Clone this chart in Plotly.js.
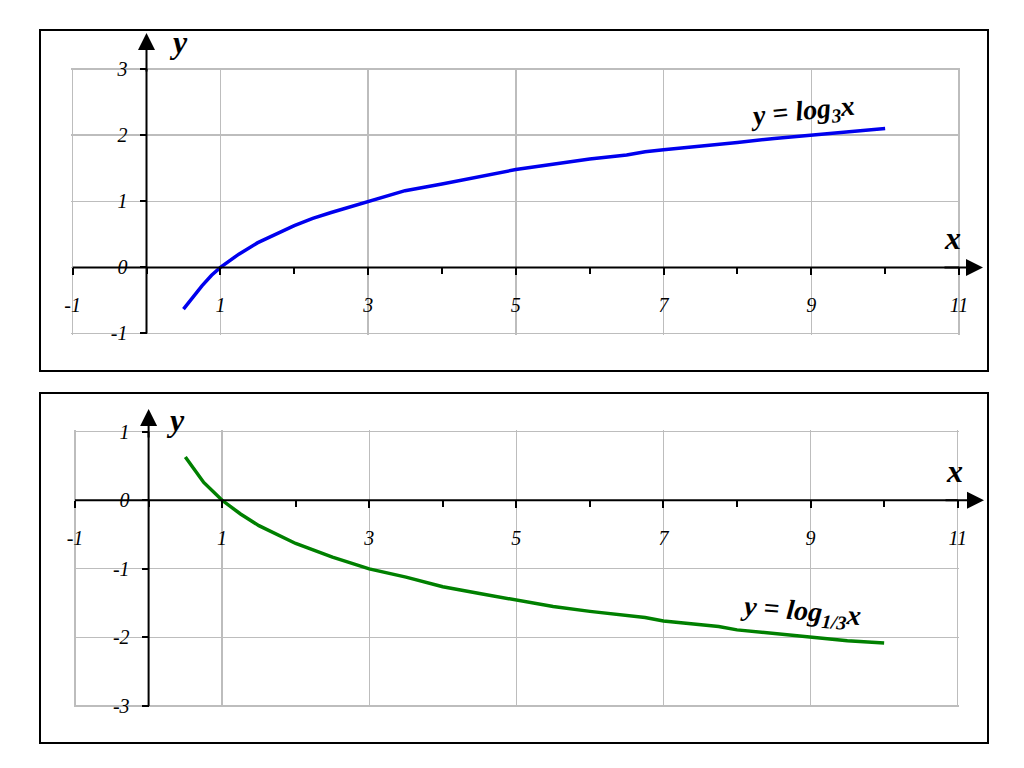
<!DOCTYPE html>
<html>
<head>
<meta charset="utf-8">
<script src="https://cdn.plot.ly/plotly-3.0.1.min.js"></script>
<style>html,body{margin:0;padding:0;background:#fff;}#chart{width:1024px;height:768px;}</style>
</head>
<body>
<div id="chart"></div>
<script>
// ---- data ----
var topX = [0.5, 0.75, 0.88, 1, 1.25, 1.5, 2, 2.25, 2.5, 3, 3.5, 4, 4.5, 5, 5.5, 6, 6.5, 6.75, 7, 7.5, 8, 8.5, 9, 9.5, 10];
var topY = [-0.63, -0.28, -0.12, 0, 0.2, 0.37, 0.63, 0.74, 0.83, 1.0, 1.16, 1.26, 1.37, 1.48, 1.56, 1.64, 1.70, 1.75, 1.78, 1.83, 1.89, 1.95, 2.0, 2.05, 2.1];
var botX = [0.5, 0.75, 1, 1.25, 1.5, 2, 2.5, 3, 3.5, 4, 4.5, 5, 5.5, 6, 6.5, 6.75, 7, 7.5, 7.75, 8, 8.5, 9, 9.5, 10];
var botY = [0.63, 0.26, 0, -0.2, -0.37, -0.63, -0.83, -1.0, -1.12, -1.26, -1.36, -1.46, -1.55, -1.62, -1.68, -1.71, -1.76, -1.81, -1.84, -1.89, -1.94, -2.0, -2.05, -2.08];

var xTickVals = [-1, 1, 3, 5, 7, 9, 11];
var xTickText = ['-1', '1', '3', '5', '7', '9', '11'];
var xMinorVals = [-1, 0, 1, 2, 3, 4, 5, 6, 7, 8, 9, 10, 11];
var yTopVals = [-1, 0, 1, 2, 3];
var yTopText = ['-1', '0', '1', '2', '3'];
var yBotVals = [-3, -2, -1, 0, 1];
var yBotText = ['-3', '-2', '-1', '0', '1'];

var topLabel = '<b><i>y = log<sub>3</sub>x</i></b>';
var botLabel = '<b><i>y = log<sub>1/3</sub>x</i></b>';

// ---- styling ----
var W = 1024, H = 768;
function px(x) { return x / W; }
function py(y) { return (H - y) / H; }
var EPS = 0.02; // small range padding so the edge grid lines are kept (domain compensates)
var tickFont = {family: 'Liberation Serif, Times New Roman, serif', size: 20, color: '#000', style: 'italic'};
var gridCol = '#bdbdbd';

function xAxis(p0, p1, pos) {
  var u = (p1 - p0) / 12;
  return {
    domain: [px(p0 - EPS * u), px(p1 + EPS * u)], range: [-1 - EPS, 11 + EPS], anchor: 'free', position: pos,
    showgrid: true, gridcolor: gridCol, gridwidth: 1.3, zeroline: false,
    showline: false,
    tickmode: 'array', tickvals: xTickVals, ticktext: xTickText,
    ticks: 'outside', ticklen: 7, tickwidth: 2, tickcolor: '#000',
    ticklabelstandoff: 13, tickfont: tickFont,
    minor: {tickmode: 'array', tickvals: xMinorVals, ticks: 'outside', ticklen: 6, tickwidth: 2, tickcolor: '#000', showgrid: false},
    fixedrange: true
  };
}
function yAxis(p0, p1, pos, range, vals, text) {
  // p0 = pixel of range[0] (bottom), p1 = pixel of range[1] (top)
  var u = (p0 - p1) / (range[1] - range[0]);
  return {
    domain: [py(p0 + EPS * u), py(p1 - EPS * u)], range: [range[0] - EPS, range[1] + EPS], anchor: 'free', position: pos,
    showgrid: true, gridcolor: gridCol, gridwidth: 1.3, zeroline: false,
    showline: false,
    tickmode: 'array', tickvals: vals, ticktext: text,
    ticks: 'outside', ticklen: 7, tickwidth: 2, tickcolor: '#000',
    ticklabelstandoff: 8, tickfont: tickFont,
    fixedrange: true
  };
}

var traces = [
  {x: topX, y: topY, xaxis: 'x', yaxis: 'y', mode: 'lines', line: {color: '#0000ee', width: 3.5}, hoverinfo: 'skip'},
  {x: botX, y: botY, xaxis: 'x2', yaxis: 'y2', mode: 'lines', line: {color: '#008000', width: 3.5}, hoverinfo: 'skip'}
];

var bigFont = {family: 'Liberation Serif, Times New Roman, serif', size: 32, color: '#000'};
var eqFont = {family: 'Liberation Serif, Times New Roman, serif', size: 28, color: '#000'};

function arrow(xTip, yTip, ax, ay) {
  return {xref: 'paper', yref: 'paper', x: px(xTip), y: py(yTip), text: '', showarrow: true,
          ax: ax, ay: ay, axref: 'pixel', ayref: 'pixel', arrowhead: 2, arrowsize: 1.7, arrowwidth: 2, arrowcolor: '#000'};
}
function label(x, y, text, font, angle) {
  return {xref: 'paper', yref: 'paper', x: px(x), y: py(y), text: text, showarrow: false, font: font,
          xanchor: 'center', yanchor: 'middle', textangle: angle || 0};
}
// axis lines drawn through the zero point of each panel (paper coords)
function hline(x0, x1, y) { return {type: 'line', xref: 'paper', yref: 'paper', x0: px(x0), x1: px(x1), y0: py(y), y1: py(y), line: {color: '#000', width: 2}}; }
function vline(x, y0, y1) { return {type: 'line', xref: 'paper', yref: 'paper', x0: px(x), x1: px(x), y0: py(y0), y1: py(y1), line: {color: '#000', width: 2}}; }

var layout = {
  width: W, height: H, margin: {l: 0, r: 0, t: 0, b: 0},
  paper_bgcolor: '#fff', plot_bgcolor: 'rgba(0,0,0,0)', showlegend: false,
  xaxis: xAxis(72.7, 959, py(267.4)),
  yaxis: yAxis(333.5, 69, px(146.5), [-1, 3], yTopVals, yTopText),
  xaxis2: xAxis(75, 957.7, py(500.3)),
  yaxis2: yAxis(706, 431.7, px(148.6), [-3, 1], yBotVals, yBotText),
  shapes: [
    {type: 'rect', xref: 'paper', yref: 'paper', x0: px(40), x1: px(988), y0: py(371), y1: py(30), line: {color: '#000', width: 2}},
    {type: 'rect', xref: 'paper', yref: 'paper', x0: px(40), x1: px(988), y0: py(743), y1: py(393), line: {color: '#000', width: 2}},
    hline(72.7, 959, 267.4), vline(146.5, 333.5, 69),
    hline(75, 957.7, 500.3), vline(148.6, 706, 431.7)
  ],
  annotations: [
    arrow(983, 267.4, -40, 0),
    arrow(146.5, 33, 0, 40),
    arrow(984, 500.3, -40, 0),
    arrow(148.6, 409, 0, 30),
    label(178, 42, '<b><i>y</i></b>', bigFont),
    label(952, 238, '<b><i>x</i></b>', bigFont),
    label(175, 420, '<b><i>y</i></b>', bigFont),
    label(954, 471, '<b><i>x</i></b>', bigFont),
    label(802, 113, topLabel, eqFont, -6),
    label(801, 612, botLabel, eqFont, 5)
  ]
};

Plotly.newPlot('chart', traces, layout, {displayModeBar: false, staticPlot: true});
</script>
</body>
</html>
